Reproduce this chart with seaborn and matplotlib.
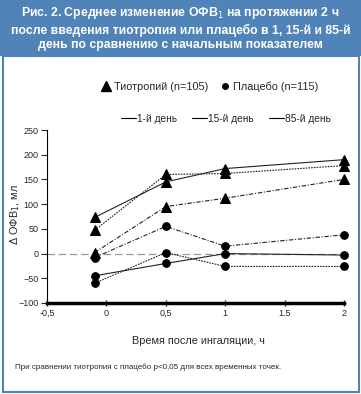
import numpy as np
import pandas as pd
import matplotlib
matplotlib.use("Agg")
import matplotlib.pyplot as plt
import seaborn as sb
from matplotlib.lines import Line2D
from matplotlib.patches import Rectangle

# --- data ---
time_h = [-0.1, 0.5, 1.0, 2.0]
days = ["1-й день", "15-й день", "85-й день"]
tio_day1 = [73, 145, 172, 190]
tio_day15 = [47, 160, 162, 178]
tio_day85 = [2, 95, 112, 150]
plc_day1 = [-45, -20, 0, -3]
plc_day15 = [-60, 2, -26, -26]
plc_day85 = [-8, 55, 15, 38]

series = {
    ("Тиотропий", days[0]): tio_day1,
    ("Тиотропий", days[1]): tio_day15,
    ("Тиотропий", days[2]): tio_day85,
    ("Плацебо", days[0]): plc_day1,
    ("Плацебо", days[1]): plc_day15,
    ("Плацебо", days[2]): plc_day85,
}

rows = []
for (drug, day), vals in series.items():
    for t, v in zip(time_h, vals):
        rows.append({"drug": drug, "day": day, "time": t, "fev": v})
df = pd.DataFrame(rows)

sb.set_style("white")
plt.rcParams["font.family"] = ["Liberation Sans", "DejaVu Sans"]

fig = plt.figure(figsize=(3.61, 3.94), dpi=100)

# header box and frame
blue = "#5083b8"
fig.patches.append(Rectangle((0, 1 - 56 / 394), 1, 56 / 394, transform=fig.transFigure,
                             facecolor=blue, edgecolor="none", zorder=0))
fig.patches.append(Rectangle((3 / 361, 2 / 394), 356 / 361, (392 - 56) / 394, transform=fig.transFigure,
                             facecolor="none", edgecolor=blue, lw=1.5, zorder=0))

fig.text(0.5, 1 - 28 / 394,
         "Рис. 2. Среднее изменение ОФВ$_1$ на протяжении 2 ч\n"
         "после введения тиотропия или плацебо в 1, 15-й и 85-й\n"
         "день по сравнению с начальным показателем",
         ha="center", va="center", color="white", fontsize=8.8, fontweight="bold",
         linespacing=1.3)

ax = fig.add_axes([47 / 361, 1 - 303 / 394, (344 - 47) / 361, (303 - 130) / 394])

styles = {days[0]: "-", days[1]: (0, (1.5, 1)), days[2]: (0, (4, 1.5, 1, 1.5))}
markers = {"Тиотропий": "^", "Плацебо": "o"}
msize = {"Тиотропий": 7.5, "Плацебо": 5.5}

ax.axhline(0, color="#999999", lw=0.9, ls=(0, (6, 3)), zorder=1)

for (drug, day), sub in df.groupby(["drug", "day"]):
    sb.lineplot(data=sub, x="time", y="fev", ax=ax, color="#222222", lw=0.8,
                linestyle=styles[day], marker=markers[drug], markersize=msize[drug],
                markeredgecolor="black", markerfacecolor="black", zorder=3,
                clip_on=False)

ax.set_xlim(-0.5, 2)
ax.set_ylim(-100, 250)
ax.set_xticks([-0.5, 0, 0.5, 1, 1.5, 2])
ax.set_xticklabels(["-0,5", "0", "0,5", "1", "1.5", "2"])
ax.set_yticks(np.arange(-100, 251, 50))
ax.tick_params(axis="x", direction="inout", length=5, width=1, labelsize=6.5, pad=2, bottom=True)
ax.tick_params(axis="y", direction="out", length=4, width=0.8, labelsize=6.5, pad=2, left=True)
for s in ["top", "right"]:
    ax.spines[s].set_visible(False)
ax.spines["left"].set_color("black")
ax.spines["left"].set_linewidth(0.8)
ax.spines["bottom"].set_color("black")
ax.spines["bottom"].set_linewidth(2.5)
ax.set_xlabel("Время после ингаляции, ч", fontsize=7.8)
ax.xaxis.set_label_coords((198 - 47) / (344 - 47), -(336 - 303) / (303 - 130))
ax.set_ylabel("Δ ОФВ$_1$, мл", fontsize=7.8)
ax.yaxis.set_label_coords(-(47 - 22) / (344 - 47), (303 - 215) / (303 - 130))

# legends
h1 = [Line2D([], [], marker="^", color="black", ls="none", markersize=7),
      Line2D([], [], marker="o", color="black", ls="none", markersize=4)]
fig.legend(h1, ["Тиотропий (n=105)", "Плацебо (n=115)"], ncol=2, frameon=False,
           loc="center", bbox_to_anchor=(210 / 361, 1 - 87 / 394), fontsize=7.8,
           handlelength=0.8, handletextpad=0.3, columnspacing=1.2)
h2 = [Line2D([], [], color="black", lw=0.8) for _ in days]
fig.legend(h2, days, ncol=3, frameon=False,
           loc="center", bbox_to_anchor=(226 / 361, 1 - 119 / 394), fontsize=7.3,
           handlelength=1.5, handletextpad=0.1, columnspacing=1.5)

fig.text(15 / 361, 1 - 367 / 394,
         "При сравнении тиотропия с плацебо p<0,05 для всех временных точек.",
         fontsize=5.8, va="center", ha="left")

fig.savefig("out.png", dpi=100)
